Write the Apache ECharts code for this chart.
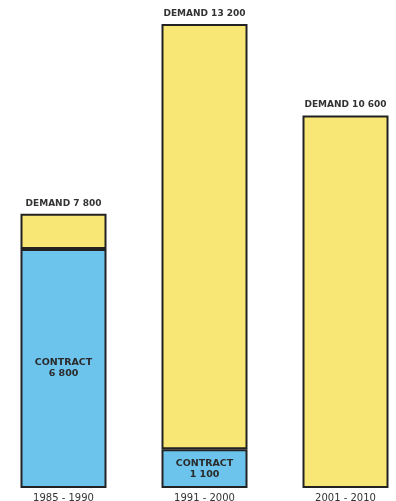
<!DOCTYPE html>
<html><head><meta charset="utf-8">
<script src="https://cdn.jsdelivr.net/npm/echarts@6/dist/echarts.min.js"></script>
<style>html,body{margin:0;padding:0;background:#fff}#c{width:396px;height:501px}</style>
</head><body><div id="c"></div>
<script>
const categories = ['1985 - 1990', '1991 - 2000', '2001 - 2010'];
const demand = [7800, 13200, 10600];
const contract = [6800, 1100, 0];

const remainder = demand.map((d, i) => d - contract[i]);
const contractData = contract.map(v => v > 0 ? v : '-');
const fmt = v => String(v).replace(/\B(?=(\d{3})+(?!\d))/g, ' ');

const chart = echarts.init(document.getElementById('c'), null, {renderer: 'canvas'});
chart.setOption({
  backgroundColor: '#ffffff',
  animation: false,
  grid: {left: -7, width: 423, top: 24, bottom: 13, containLabel: false, outerBoundsMode: 'none'},
  xAxis: {
    type: 'category', data: categories,
    axisLine: {show: false}, axisTick: {show: false},
    axisLabel: {color: '#333', fontSize: 10, fontFamily: 'DejaVu Sans', margin: 5}
  },
  yAxis: {type: 'value', min: 0, max: 13200, show: false, splitLine: {show: false}},
  series: [
    {
      type: 'bar', stack: 'a', barWidth: 86, data: contractData,
      itemStyle: {color: '#6CC3EC', borderColor: '#222', borderWidth: 2},
      label: {
        show: true, position: 'inside', color: '#2a2a2a', fontSize: 9.5, fontWeight: 'bold',
        fontFamily: 'DejaVu Sans', lineHeight: 11,
        formatter: p => 'CONTRACT\n' + fmt(p.value)
      }
    },
    {
      type: 'bar', stack: 'a', barWidth: 86, data: remainder,
      itemStyle: {color: '#F8E675', borderColor: '#222', borderWidth: 2},
      label: {
        show: true, position: 'top', distance: 6, color: '#333', fontSize: 9,
        fontWeight: 'bold', fontFamily: 'DejaVu Sans',
        formatter: p => 'DEMAND ' + fmt(demand[p.dataIndex])
      }
    }
  ]
});
</script></body></html>
